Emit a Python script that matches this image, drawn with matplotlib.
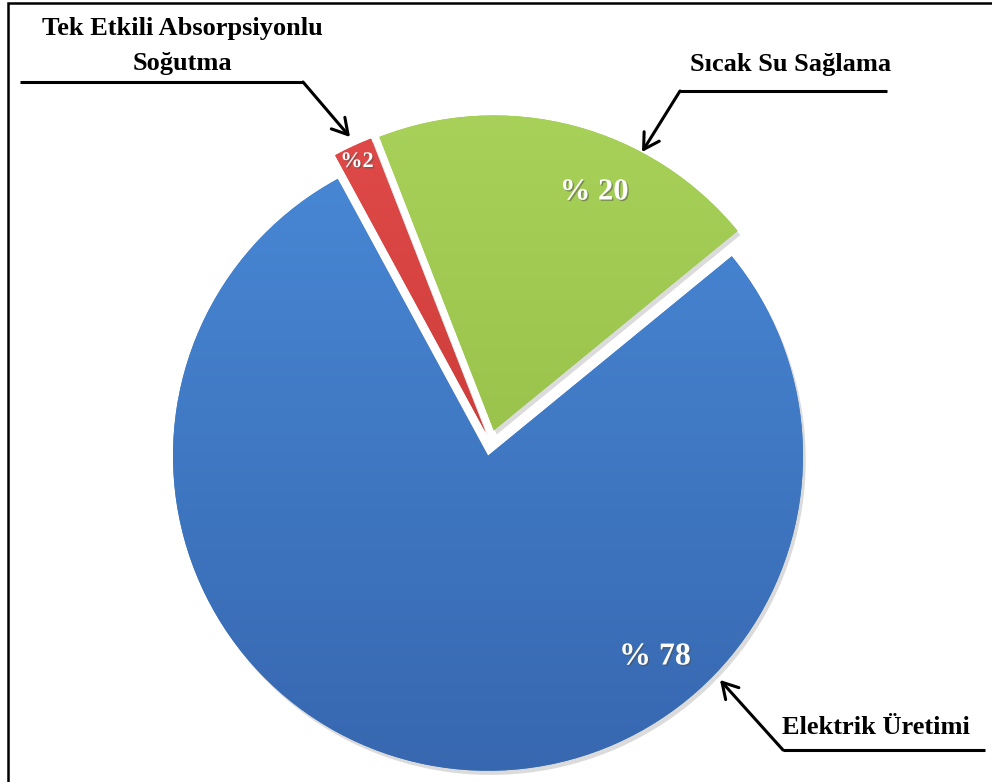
import numpy as np
import matplotlib
matplotlib.use("Agg")
import matplotlib.pyplot as plt
import matplotlib.patheffects as pe
from matplotlib.colors import LinearSegmentedColormap

# Pie data (drawn counter-clockwise from the start angle)
categories = ["Sıcak Su Sağlama", "Tek Etkili Absorpsiyonlu\nSoğutma", "Elektrik Üretimi"]
shares = [20, 2, 78]
pct_labels = ["% {}", "%{}", "% {}"]

W, H = 992, 782
SERIF = ["Liberation Serif", "DejaVu Serif"]

fig = plt.figure(figsize=(W / 100, H / 100), dpi=100)
fig.patch.set_facecolor("white")
ax = fig.add_axes([0, 0, 1, 1])


def px(x, y):
    """Pixel position (origin top-left) to axes data coordinates."""
    return (x, H - y)


cx, cy = px(490.5, 443)
radius = 315
explode = [13, 12, 13]   # offset of each slice from the centre, in pixels

wedges, _ = ax.pie(
    shares,
    center=(cx, cy),
    radius=radius,
    startangle=39.3,
    counterclock=True,
    explode=explode,
    colors=["#9bc44a", "#d43d3b", "#3f7ccb"],
    wedgeprops=dict(linewidth=0),
)

# Vertical light-to-dark gradients clipped to each wedge
gradients = [
    ("#a9d25a", "#8ab43c"),
    ("#e24c4a", "#b92e2c"),
    ("#4a8bd9", "#3666ae"),
]
pad = radius + 40
extent = (cx - pad, cx + pad, cy - pad, cy + pad)
ramp = np.linspace(0, 1, 256).reshape(-1, 1)
for w, (top, bottom) in zip(wedges, gradients):
    w.set_path_effects([
        pe.SimplePatchShadow(offset=(2, -3), shadow_rgbFace="#888888", alpha=0.3),
        pe.Normal(),
    ])
    cmap = LinearSegmentedColormap.from_list("g", [top, bottom])
    im = ax.imshow(ramp, cmap=cmap, extent=extent, aspect="auto",
                   origin="upper", zorder=w.get_zorder() + 0.5)
    im.set_clip_path(w)

# Percentage labels inside the slices
pct_pos = [px(594, 192), px(357, 162), px(655, 657)]
pct_size = [22, 16, 23]
for v, fmt, (x, y), s in zip(shares, pct_labels, pct_pos, pct_size):
    ax.text(x, y, fmt.format(v), color="white", fontsize=s, fontweight="bold",
            family=SERIF, ha="center", va="center", zorder=5,
            path_effects=[pe.withSimplePatchShadow(offset=(1, -1), alpha=0.5)])

# Category labels with leader arrows
label_pos = [px(791, 65), px(182, 46), px(876, 728)]
for name, (x, y) in zip(categories, label_pos):
    ax.text(x, y, name, color="black", fontsize=19, fontweight="bold",
            family=SERIF, ha="center", va="center", zorder=5, linespacing=1.68)

leaders = [
    [(887, 91), (680, 91), (642, 152)],
    [(20, 82), (303, 82), (350, 137)],
    [(985, 750), (783, 750), (720, 680)],
]
for pts in leaders:
    p = [px(*q) for q in pts]
    ax.plot([p[0][0], p[1][0]], [p[0][1], p[1][1]], color="black", lw=2.2,
            solid_capstyle="butt", zorder=6)
    ax.annotate("", xy=p[2], xytext=p[1],
                arrowprops=dict(arrowstyle="->,head_length=0.55,head_width=0.32",
                                color="black", lw=2.2, shrinkA=0, shrinkB=0,
                                mutation_scale=20),
                zorder=6)

# Outer frame (top and left edges)
ax.plot([8, 8, W + 5], [-5, H - 3, H - 3], color="black", lw=1.8, zorder=7,
        solid_joinstyle="miter")

ax.set_xlim(0, W)
ax.set_ylim(0, H)
ax.set_aspect("auto")
ax.axis("off")

fig.savefig("out.png", dpi=100, facecolor="white")
